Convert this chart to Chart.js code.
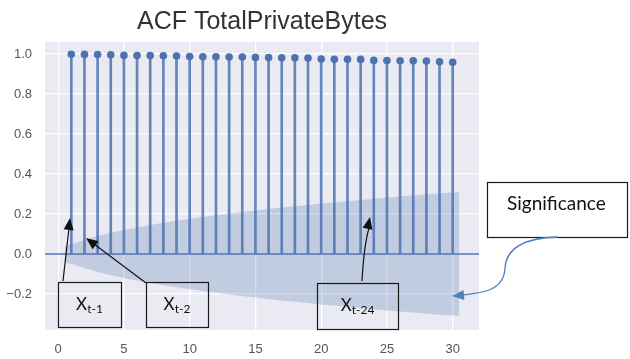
<!DOCTYPE html>
<html>
<head>
<meta charset="utf-8">
<script src="https://cdn.jsdelivr.net/npm/chart.js@4.4.1/dist/chart.umd.min.js"></script>
<style>
  html, body { margin: 0; padding: 0; background: #ffffff; }
  #wrap { width: 630px; height: 359px; }
</style>
</head>
<body>
<div id="wrap"><canvas id="acf" width="630" height="359"></canvas></div>
<script>
// Autocorrelation of TotalPrivateBytes, lags 1..30
const lags = [1, 2, 3, 4, 5, 6, 7, 8, 9, 10, 11, 12, 13, 14, 15,
              16, 17, 18, 19, 20, 21, 22, 23, 24, 25, 26, 27, 28, 29, 30];
const acfValues = [0.999, 0.998, 0.997, 0.996, 0.993, 0.992, 0.992, 0.991, 0.990, 0.987,
                   0.986, 0.986, 0.985, 0.985, 0.983, 0.982, 0.981, 0.981, 0.980, 0.975,
                   0.974, 0.974, 0.973, 0.968, 0.967, 0.966, 0.966, 0.965, 0.961, 0.959];

// 95% confidence band (half width around zero); first/last x widened by half a lag
const bandLags = [0.5, 2, 3, 4, 5, 6, 7, 8, 9, 10, 11, 12, 13, 14, 15,
                  16, 17, 18, 19, 20, 21, 22, 23, 24, 25, 26, 27, 28, 29, 30.5];
const bandHalfWidth = [0.040, 0.070, 0.090, 0.106, 0.120, 0.133, 0.145, 0.156, 0.166, 0.176,
                       0.185, 0.194, 0.202, 0.210, 0.217, 0.225, 0.232, 0.239, 0.245, 0.252,
                       0.258, 0.264, 0.270, 0.276, 0.282, 0.288, 0.293, 0.299, 0.304, 0.309];

const xTicks = [0, 5, 10, 15, 20, 25, 30];
const yTicks = [-0.2, 0.0, 0.2, 0.4, 0.6, 0.8, 1.0];
const xLimits = [-1, 32];
const yLimits = [-0.38, 1.06];

const titleText = 'ACF TotalPrivateBytes';

// Callout overlay (lag labels and significance note)
const calloutLabels = [
  { main: 'X', sub: 't-1' },
  { main: 'X', sub: 't-2' },
  { main: 'X', sub: 't-24' }
];
const noteText = 'Significance';

const C0 = '#4C72B0';

const stemPoints = lags.map((l, i) => ({ x: l, y: acfValues[i] }));
const upperBand = bandLags.map((l, i) => ({ x: l, y: bandHalfWidth[i] }));
const lowerBand = bandLags.map((l, i) => ({ x: l, y: -bandHalfWidth[i] }));
const zeroLine = xLimits.map(x => ({ x: x, y: 0 }));

const plotBackground = {
  id: 'plotBackground',
  beforeDraw(chart) {
    const { ctx, chartArea: a } = chart;
    ctx.save();
    ctx.fillStyle = '#EAEAF2';
    ctx.fillRect(a.left, a.top, a.right - a.left, a.bottom - a.top);
    ctx.restore();
  }
};

function arrowHead(ctx, fromX, fromY, tipX, tipY, len, half, color) {
  const ang = Math.atan2(tipY - fromY, tipX - fromX);
  ctx.save();
  ctx.fillStyle = color;
  ctx.beginPath();
  ctx.moveTo(tipX, tipY);
  ctx.lineTo(tipX - len * Math.cos(ang) + half * Math.sin(ang), tipY - len * Math.sin(ang) - half * Math.cos(ang));
  ctx.lineTo(tipX - len * Math.cos(ang) - half * Math.sin(ang), tipY - len * Math.sin(ang) + half * Math.cos(ang));
  ctx.closePath();
  ctx.fill();
  ctx.restore();
}

function labelBox(ctx, box, label) {
  ctx.save();
  ctx.strokeStyle = '#1a1a1a';
  ctx.lineWidth = 1.2;
  ctx.strokeRect(box.x + 0.5, box.y + 0.5, box.w, box.h);
  ctx.fillStyle = '#111';
  ctx.textBaseline = 'alphabetic';
  ctx.font = '17px Lato, "Open Sans", sans-serif';
  const mw = ctx.measureText(label.main).width;
  ctx.font = '12px Lato, "Open Sans", sans-serif';
  const sw = ctx.measureText(label.sub).width;
  const x0 = box.x + (box.w - mw - sw) / 2;
  ctx.font = '17px Lato, "Open Sans", sans-serif';
  ctx.fillText(label.main, x0, box.y + 28);
  ctx.font = '12px Lato, "Open Sans", sans-serif';
  ctx.fillText(label.sub, x0 + mw, box.y + 31);
  ctx.restore();
}

const callouts = {
  id: 'callouts',
  afterDraw(chart) {
    const ctx = chart.ctx;
    const ink = '#111';
    ctx.save();
    ctx.lineWidth = 1.2;
    ctx.strokeStyle = ink;

    // X t-1
    labelBox(ctx, { x: 58, y: 282, w: 63, h: 45 }, calloutLabels[0]);
    ctx.beginPath(); ctx.moveTo(63, 281); ctx.lineTo(69, 228); ctx.stroke();
    arrowHead(ctx, 63, 281, 70, 218, 12, 5, ink);

    // X t-2
    labelBox(ctx, { x: 146, y: 282, w: 62, h: 45 }, calloutLabels[1]);
    ctx.beginPath(); ctx.moveTo(146, 283); ctx.lineTo(94, 244); ctx.stroke();
    arrowHead(ctx, 146, 283, 86, 238, 12, 5, ink);

    // X t-24
    labelBox(ctx, { x: 317, y: 283, w: 81, h: 46 }, calloutLabels[2]);
    ctx.beginPath(); ctx.moveTo(362, 281); ctx.quadraticCurveTo(364, 245, 369, 228); ctx.stroke();
    arrowHead(ctx, 366, 236, 370, 217, 12, 5, ink);

    // Significance note
    ctx.fillStyle = '#ffffff';
    ctx.fillRect(487, 182, 140, 55);
    ctx.strokeStyle = '#1a1a1a';
    ctx.strokeRect(487.5, 182.5, 140, 55);
    ctx.fillStyle = '#111';
    ctx.font = '19px Lato, "Open Sans", sans-serif';
    ctx.textBaseline = 'middle';
    ctx.fillText(noteText, 507, 204);

    const blue = '#4F81BD';
    ctx.strokeStyle = blue;
    ctx.lineWidth = 1.3;
    ctx.beginPath();
    ctx.moveTo(558, 237);
    ctx.bezierCurveTo(522, 238, 506, 250, 505, 268);
    ctx.bezierCurveTo(504, 290, 484, 293, 462, 295);
    ctx.stroke();
    arrowHead(ctx, 470, 294.5, 452, 296, 12, 5, blue);
    ctx.restore();
  }
};

const fmtY = v => (v < 0 ? '\u2212' : '') + Math.abs(v).toFixed(1);

new Chart(document.getElementById('acf'), {
  data: {
    datasets: [
      {
        type: 'line', data: upperBand, fill: '+1', order: 4,
        backgroundColor: 'rgba(76,114,176,0.25)', borderWidth: 0, pointRadius: 0, tension: 0
      },
      {
        type: 'line', data: lowerBand, fill: false, order: 4,
        borderWidth: 0, pointRadius: 0, tension: 0
      },
      {
        type: 'line', data: zeroLine, order: 3,
        borderColor: C0, borderWidth: 1.6, pointRadius: 0, fill: false
      },
      {
        type: 'bar', data: stemPoints, order: 2,
        backgroundColor: 'rgba(76,114,176,0.85)', barThickness: 2, borderWidth: 0
      },
      {
        type: 'scatter', data: stemPoints, order: 1,
        pointRadius: 3.8, pointBackgroundColor: C0, pointBorderWidth: 0, showLine: false
      }
    ]
  },
  options: {
    responsive: false,
    animation: false,
    devicePixelRatio: 1,
    layout: { padding: { left: 0, right: 151, top: 0, bottom: 0 } },
    plugins: {
      legend: { display: false },
      tooltip: { enabled: false },
      title: {
        display: true, text: titleText, color: '#333333', fullSize: false,
        font: { family: '"Liberation Sans", Arial, sans-serif', size: 25, weight: 'normal' },
        padding: { top: 7, bottom: 5 }
      }
    },
    scales: {
      x: {
        type: 'linear', min: xLimits[0], max: xLimits[1], offset: false,
        afterBuildTicks: s => { s.ticks = xTicks.map(v => ({ value: v })); },
        afterFit: s => { s.height = 29; },
        grid: { color: '#ffffff', lineWidth: 1.3, drawTicks: false, offset: false },
        border: { display: false },
        ticks: {
          color: '#555555', padding: 12, maxRotation: 0, autoSkip: false,
          font: { family: '"Liberation Sans", Arial, sans-serif', size: 13 },
          callback: v => String(v)
        }
      },
      y: {
        type: 'linear', min: yLimits[0], max: yLimits[1],
        afterBuildTicks: s => { s.ticks = yTicks.map(v => ({ value: v })); },
        afterFit: s => { s.width = 45; },
        grid: { color: '#ffffff', lineWidth: 1.3, drawTicks: false },
        border: { display: false },
        ticks: {
          color: '#555555', padding: 13, autoSkip: false,
          font: { family: '"Liberation Sans", Arial, sans-serif', size: 13 },
          callback: v => fmtY(v)
        }
      }
    }
  },
  plugins: [plotBackground, callouts]
});
</script>
</body>
</html>
